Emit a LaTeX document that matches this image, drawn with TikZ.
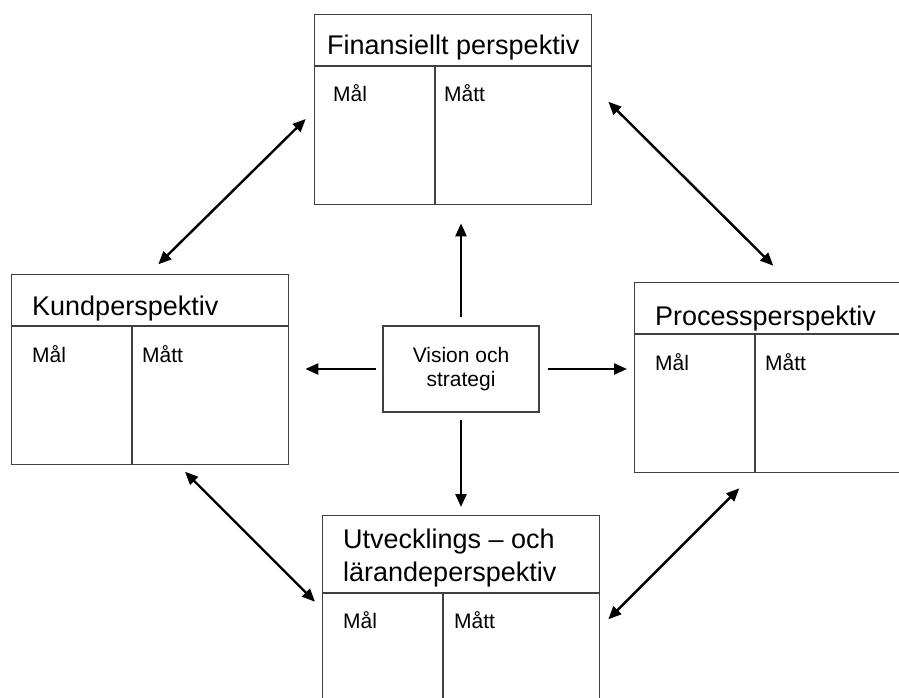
\documentclass[tikz,border=0pt]{standalone}
\usepackage{fontspec}
\setmainfont{Liberation Sans}
\usetikzlibrary{arrows.meta}

\begin{document}
\begin{tikzpicture}[x=1pt, y=-1pt,
    persp/.style={rectangle, draw=black!75, line width=1.3pt, inner sep=0pt, anchor=north west, minimum width=277pt, minimum height=190pt},
    head/.style={anchor=base west, inner sep=0pt, font=\fontsize{27}{33}\selectfont, align=left},
    cell/.style={anchor=base west, inner sep=0pt, font=\fontsize{21}{24}\selectfont},
    rule/.style={draw=black!75, line width=1.3pt},
    link/.style={{Triangle[length=13pt,width=11pt]}-{Triangle[length=13pt,width=11pt]}, line width=2.4pt},
    ray/.style={-{Triangle[length=13pt,width=11pt]}, line width=2.4pt}]
      \useasboundingbox (0,0) rectangle (899,698);
      \clip (0,0) rectangle (899,698);

      % Finansiellt perspektiv
      \node[persp] (fin) at (314,14) {};
      \draw[rule] ([yshift=-52pt]fin.north west) -- ([yshift=-52pt]fin.north east);
      \draw[rule] ([xshift=121pt,yshift=-52pt]fin.north west) -- ([xshift=121pt]fin.south west);
      \node[head] (finhead) at ([xshift=13pt,yshift=-41pt]fin.north west) {Finansiellt perspektiv};
      \node[cell] (finmal) at ([xshift=19pt,yshift=-88pt]fin.north west) {Mål};
      \node[cell] (finmatt) at ([xshift=130pt,yshift=-88pt]fin.north west) {Mått};

      % Kundperspektiv
      \node[persp] (kund) at (11,274) {};
      \draw[rule] ([yshift=-52pt]kund.north west) -- ([yshift=-52pt]kund.north east);
      \draw[rule] ([xshift=121pt,yshift=-52pt]kund.north west) -- ([xshift=121pt]kund.south west);
      \node[head] (kundhead) at ([xshift=21pt,yshift=-41pt]kund.north west) {Kundperspektiv};
      \node[cell] (kundmal) at ([xshift=21pt,yshift=-88pt]kund.north west) {Mål};
      \node[cell] (kundmatt) at ([xshift=131pt,yshift=-88pt]kund.north west) {Mått};

      % Processperspektiv
      \node[persp] (proc) at (634,282) {};
      \draw[rule] ([yshift=-52pt]proc.north west) -- ([yshift=-52pt]proc.north east);
      \draw[rule] ([xshift=121pt,yshift=-52pt]proc.north west) -- ([xshift=121pt]proc.south west);
      \node[head] (prochead) at ([xshift=21pt,yshift=-43pt]proc.north west) {Processperspektiv};
      \node[cell] (procmal) at ([xshift=21pt,yshift=-88pt]proc.north west) {Mål};
      \node[cell] (procmatt) at ([xshift=131pt,yshift=-88pt]proc.north west) {Mått};

      % Utvecklings- och lärandeperspektiv
      \node[persp, minimum height=216pt] (utv) at (322,515) {};
      \draw[rule] ([yshift=-78pt]utv.north west) -- ([yshift=-78pt]utv.north east);
      \draw[rule] ([xshift=121pt,yshift=-78pt]utv.north west) -- ([xshift=121pt]utv.south west);
      \node[head] (utvhead) at ([xshift=21pt,yshift=-66pt]utv.north west) {Utvecklings – och\\lärandeperspektiv};
      \node[cell] (utvmal) at ([xshift=21pt,yshift=-113pt]utv.north west) {Mål};
      \node[cell] (utvmatt) at ([xshift=132pt,yshift=-113pt]utv.north west) {Mått};

      % Vision och strategi
      \node[draw=black!75, line width=1.3pt, minimum width=156pt, minimum height=86pt, align=center, font=\fontsize{21}{24}\selectfont] (vision) at (461,369) {Vision och\\strategi};

      \draw[ray, shorten <=8pt, shorten >=18pt] (vision.north) -- (vision.north |- fin.south);
      \draw[ray, shorten <=7pt, shorten >=8pt] (vision.south) -- (vision.south |- utv.north);
      \draw[ray, shorten <=6pt, shorten >=16pt] (vision.west) -- (vision.west -| kund.east);
      \draw[ray, shorten <=8pt, shorten >=7pt] (vision.east) -- (vision.east -| proc.west);

      % diagonal links
      \coordinate (fk1) at (305.7,119);
      \coordinate (fk2) at (158.3,264.3);
      \coordinate (fp1) at (608.3,101.7);
      \coordinate (fp2) at (773.3,265.7);
      \coordinate (ku1) at (185,471.7);
      \coordinate (ku2) at (315,601.7);
      \coordinate (pu1) at (739.3,488.3);
      \coordinate (pu2) at (608.3,619.3);

      \draw[link] (fk1) -- (fk2);
      \draw[link] (fp1) -- (fp2);
      \draw[link] (ku1) -- (ku2);
      \draw[link] (pu1) -- (pu2);
\end{tikzpicture}
\end{document}
